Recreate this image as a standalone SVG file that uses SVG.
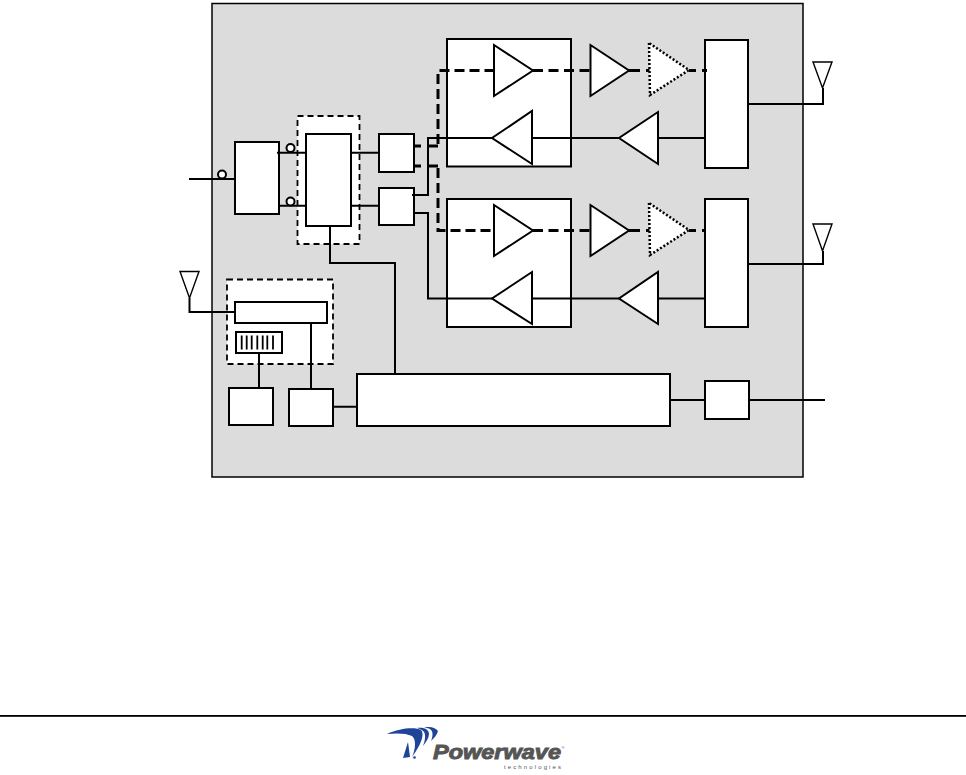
<svg xmlns="http://www.w3.org/2000/svg" width="966" height="775" viewBox="0 0 966 775">
<style>
.b{fill:#fff;stroke:#000;stroke-width:2}
.t{fill:#fff;stroke:#000;stroke-width:2;stroke-linejoin:miter}
.o{fill:#fff;stroke:#000;stroke-width:2.500;stroke-dasharray:2 2}
.d{fill:#fff;stroke:#000;stroke-width:1.800;stroke-dasharray:6 4}
.a{fill:#fff;stroke:#000;stroke-width:1.400}
.c{fill:none;stroke:#000;stroke-width:2}
.h{fill:none;stroke:#000;stroke-width:3}
.l{fill:#1d4499}
</style>
<rect id="module" x="212" y="3.500" width="591" height="473.500" fill="#dcdcdc" stroke="#000" stroke-width="1.500"/>
<rect id="footer-rule" x="0" y="715" width="966" height="1.800" fill="#000"/>
<g id="switch-group"><rect class="d" x="297.500" y="116" width="62" height="128"/><rect class="b" x="306" y="134" width="45" height="92"/></g>
<g id="splitter"><rect class="b" x="235" y="142" width="44" height="72"/></g>
<g id="box-a"><rect class="b" x="379" y="134" width="35" height="38"/></g>
<g id="box-b"><rect class="b" x="379" y="188" width="35" height="37"/></g>
<g id="panel-1"><rect class="b" x="447" y="39" width="124" height="127.500"/></g>
<g id="panel-2"><rect class="b" x="447" y="199" width="124" height="128"/></g>
<g id="duplexer-1"><rect class="b" x="705" y="40" width="43" height="128"/></g>
<g id="duplexer-2"><rect class="b" x="705" y="199" width="43" height="128"/></g>
<g id="gps-group"><rect class="d" x="227" y="279.500" width="106" height="84.500"/><rect class="b" x="235" y="302" width="92" height="21"/>
<rect class="b" x="236" y="332" width="46" height="21"/>
<path d="M241.700 335.500V349.500M246.700 335.500V349.500M251.700 335.500V349.500M257.300 335.500V349.500M262.700 335.500V349.500M267.300 335.500V349.500M273 335.500V349.500" fill="none" stroke="#000" stroke-width="1.800"/></g>
<g id="box-c"><rect class="b" x="229" y="388" width="44" height="37"/></g>
<g id="box-d"><rect class="b" x="289" y="389" width="44" height="37"/></g>
<g id="controller"><rect class="b" x="357" y="374" width="313" height="52"/></g>
<g id="box-e"><rect class="b" x="705" y="381" width="44" height="38"/></g>
<g id="connectors">
<path class="c" d="M189 179H235M277 152.700H306M279 205.700H306M351 152.700H379M351 205.700H379"/>
<path class="c" d="M330 226V263H395V374"/>
<path class="c" d="M412 195H428V138H492M414 213H428V298.500H492"/>
<path class="c" d="M532 138H619M658 138H705M532 298.500H619M658 298.500H705"/>
<path class="c" d="M748 104H823V88M748 264H823V251"/>
<path class="c" d="M189.500 298V312H235"/>
<path class="c" d="M259 353V388M311 323V389M333 406.700H357M670 400H705M749 400H825"/>
<path class="h" d="M414 146H421M428 146H438M414 166H421M428 166H438"/>
<path class="h" stroke-dasharray="10 5" stroke-dashoffset="-2" d="M438 146V70.500H494M438 166V230.500H494"/>
<path class="h" stroke-dasharray="10 5.500" d="M533 70.500H590M533 230.500H590"/>
<path class="h" d="M629 70.500H640M646 70.500H650M689 70.500H696M702 70.500H707M629 230.500H640M646 230.500H650M689 230.500H696M702 230.500H705"/>
</g>
<g id="amp-1"><polygon class="t" points="494,45 494,96 533,70.500"/></g>
<g id="amp-2"><polygon class="t" points="532,111 532,164 492,138"/></g>
<g id="amp-3"><polygon class="t" points="494,205 494,256 533,230.500"/></g>
<g id="amp-4"><polygon class="t" points="532,272 532,324 492,298.500"/></g>
<g id="amp-5"><polygon class="t" points="590.500,45 590.500,96 629,70.500"/></g>
<g id="amp-6"><polygon class="t" points="658,112 658,164 619,138"/></g>
<g id="amp-7"><polygon class="t" points="590.500,205 590.500,256 629,230.500"/></g>
<g id="amp-8"><polygon class="t" points="658,272 658,324 619,298.500"/></g>
<g id="amp-9"><polygon class="o" points="649,43 650,95 689,70"/></g>
<g id="amp-10"><polygon class="o" points="649,203 650,255 689,230"/></g>
<g id="ant-1"><polygon class="a" points="813,62 832,62 822.500,88"/></g>
<g id="ant-2"><polygon class="a" points="813,224 832,224 822.500,251"/></g>
<g id="ant-3"><polygon class="a" points="180,271.500 199,271.500 189.500,298"/></g>
<g id="port-1"><circle cx="222" cy="174.500" r="4" fill="#fff" stroke="#000" stroke-width="2"/></g>
<g id="port-2"><circle cx="290.500" cy="148" r="4" fill="#fff" stroke="#000" stroke-width="2"/></g>
<g id="port-3"><circle cx="290.500" cy="201.500" r="4" fill="#fff" stroke="#000" stroke-width="2"/></g>
<g id="logo">
<path class="l" d="M387 734C400 728 415 727 421 730C425 734 421 745 412 757C416 748 416 739 412 736C406 733 396 733 387 734Z"/>
<path class="l" d="M417 728C425 727 429 730 429 734C429 738 426 742 423 746C425 741 426 735 424 732C423 730 420 729 417 728Z"/>
<path class="l" d="M424 727.500C431 726 436 728 438 731C437 735 434 738 431 741C433 736 433 732 431 730C429 728 427 728 424 727.500Z"/>
<path class="l" d="M408 742L410 757L403 758Z"/>
<circle class="l" cx="414.500" cy="757.500" r="1.300"/>
<text x="433" y="759" font-family="'Liberation Sans',Arial,sans-serif" font-weight="700" font-style="italic" font-size="20" textLength="128" lengthAdjust="spacingAndGlyphs" fill="#555" stroke="#555" stroke-width=".9">Powerwave</text>
<text x="561.500" y="749" font-family="'Liberation Sans',Arial,sans-serif" font-size="4" fill="#555">®</text>
<text x="504" y="768.800" font-family="'Liberation Sans',Arial,sans-serif" font-size="6" textLength="57" fill="#555">technologies</text>
</g>
</svg>
